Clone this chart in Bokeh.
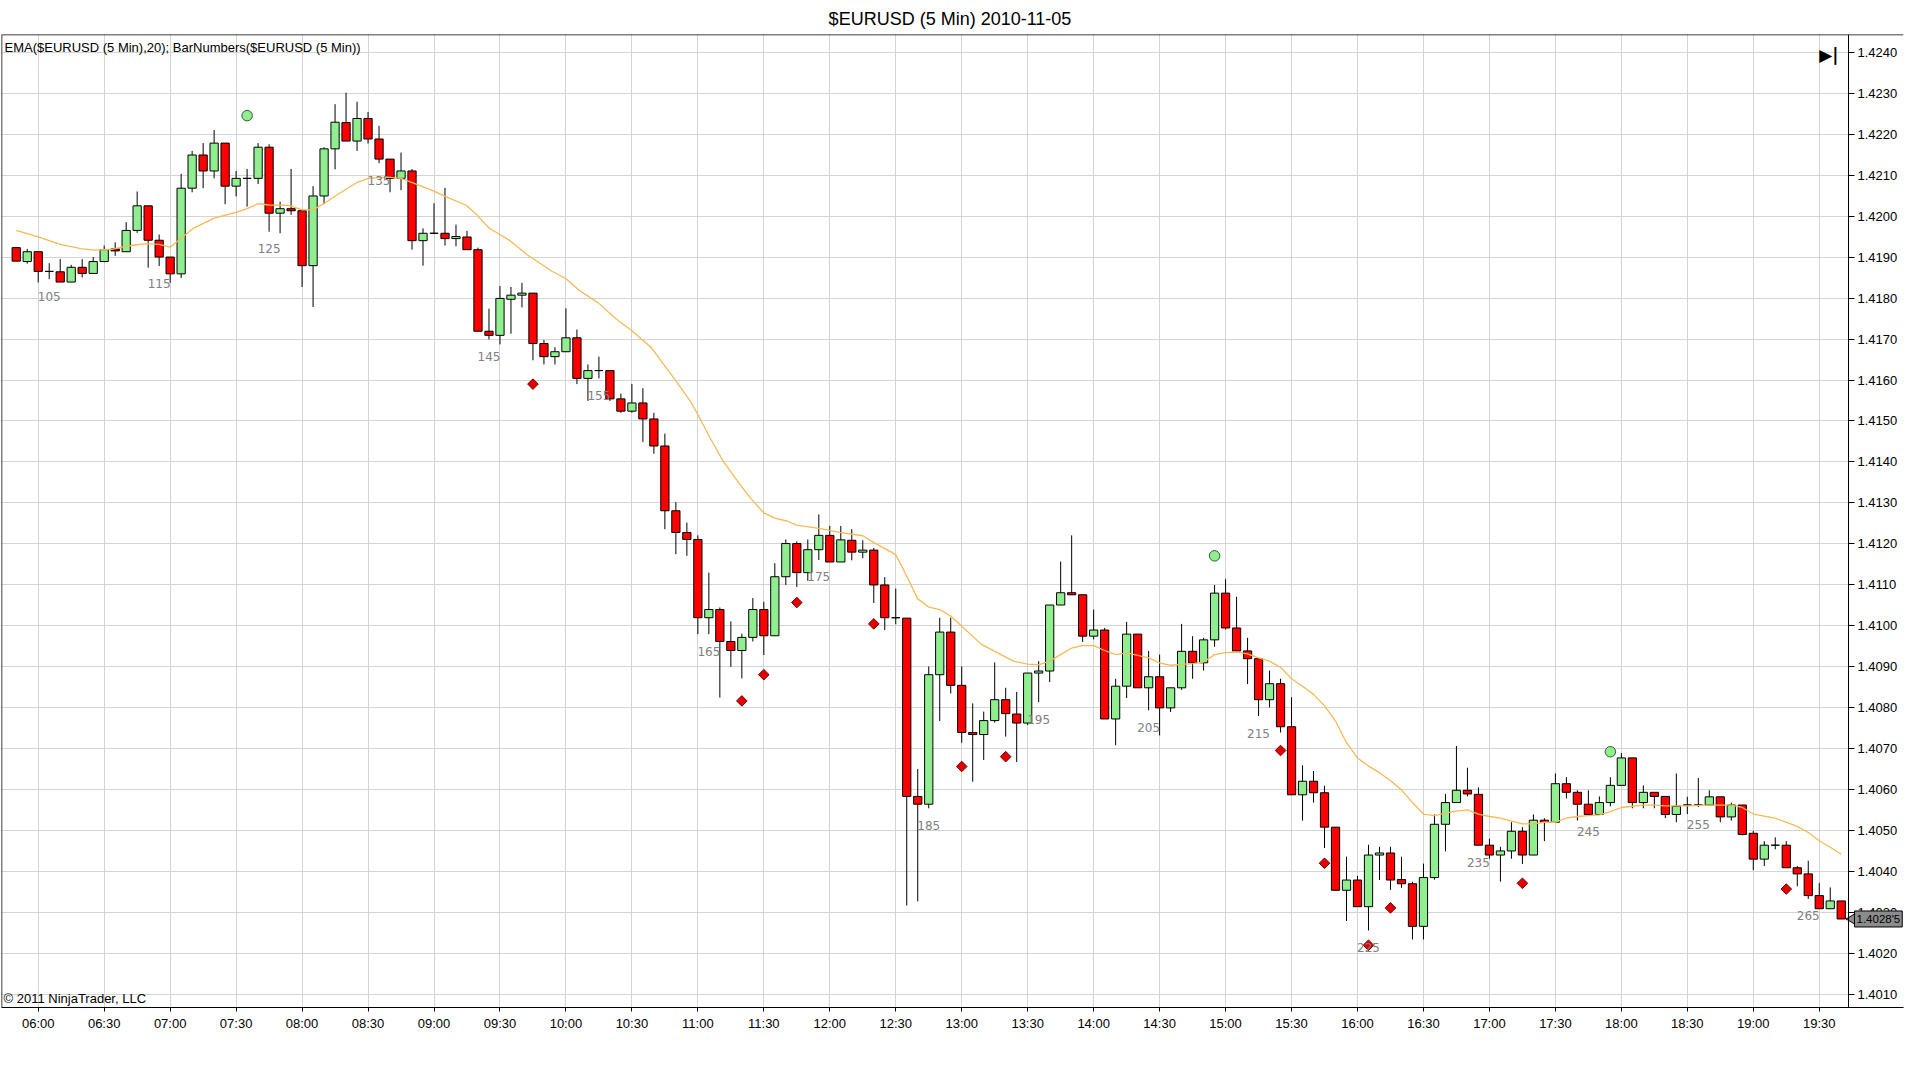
import math
from bokeh.plotting import figure
from bokeh.models import (Range1d, FixedTicker, ColumnDataSource, Label, LabelSet,
                          PrintfTickFormatter, BoxAnnotation, Span)
from bokeh.core.properties import value
from bokeh.embed import file_html
from bokeh.resources import INLINE

# ---------------- data ----------------
first_bar = 102
first_bar_time = "05:50"
bar_minutes = 5

opens = [1.41923, 1.41889, 1.41913, 1.41865, 1.41864, 1.41839, 1.41875, 1.41860, 1.41889, 1.41920,
         1.41913, 1.41965, 1.42025, 1.41941, 1.41900, 1.41859, 1.42068, 1.42149, 1.42110, 1.42178,
         1.42073, 1.42092, 1.42092, 1.42168, 1.42007, 1.42018, 1.42013, 1.41879, 1.42049, 1.42164,
         1.42228, 1.42183, 1.42238, 1.42188, 1.42139, 1.42092, 1.42110, 1.41940, 1.41958, 1.41958,
         1.41945, 1.41949, 1.41918, 1.41719, 1.41709, 1.41797, 1.41807, 1.41812, 1.41689, 1.41657,
         1.41669, 1.41703, 1.41604, 1.41623, 1.41623, 1.41554, 1.41524, 1.41544, 1.41505, 1.41439,
         1.41281, 1.41228, 1.41211, 1.41020, 1.41040, 1.40962, 1.40940, 1.40972, 1.41040, 1.40976,
         1.41120, 1.41201, 1.41130, 1.41186, 1.41221, 1.41156, 1.41209, 1.41180, 1.41185, 1.41100,
         1.41020, 1.41019, 1.40584, 1.40565, 1.40881, 1.40985, 1.40855, 1.40740, 1.40735, 1.40769,
         1.40820, 1.40785, 1.40763, 1.40885, 1.40890, 1.41051, 1.41081, 1.41076, 1.40975, 1.40990,
         1.40773, 1.40853, 1.40980, 1.40849, 1.40876, 1.40800, 1.40849, 1.40938, 1.40910, 1.40966,
         1.41080, 1.40995, 1.40939, 1.40920, 1.40820, 1.40859, 1.40754, 1.40588, 1.40621, 1.40593,
         1.40509, 1.40355, 1.40380, 1.40315, 1.40441, 1.40446, 1.40381, 1.40371, 1.40267, 1.40386,
         1.40516, 1.40569, 1.40599, 1.40589, 1.40465, 1.40441, 1.40451, 1.40499, 1.40441, 1.40526,
         1.40521, 1.40615, 1.40594, 1.40565, 1.40540, 1.40569, 1.40611, 1.40678, 1.40569, 1.40594,
         1.40584, 1.40540, 1.40563, 1.40563, 1.40563, 1.40583, 1.40534, 1.40563, 1.40494, 1.40431,
         1.40465, 1.40465, 1.40410, 1.40395, 1.40342, 1.40310, 1.40329]

highs = [1.41923, 1.41920, 1.41913, 1.41885, 1.41895, 1.41881, 1.41895, 1.41900, 1.41928, 1.41936,
         1.41985, 1.42060, 1.42025, 1.41955, 1.41900, 1.42103, 1.42159, 1.42178, 1.42210, 1.42178,
         1.42110, 1.42115, 1.42178, 1.42175, 1.42035, 1.42115, 1.42013, 1.42073, 1.42168, 1.42273,
         1.42301, 1.42279, 1.42254, 1.42220, 1.42139, 1.42155, 1.42115, 1.41970, 1.42031, 1.42069,
         1.41979, 1.41964, 1.41923, 1.41774, 1.41829, 1.41827, 1.41837, 1.41812, 1.41698, 1.41680,
         1.41775, 1.41723, 1.41638, 1.41657, 1.41623, 1.41567, 1.41590, 1.41580, 1.41520, 1.41469,
         1.41302, 1.41252, 1.41221, 1.41130, 1.41045, 1.41011, 1.40981, 1.41068, 1.41059, 1.41153,
         1.41211, 1.41206, 1.41211, 1.41272, 1.41244, 1.41244, 1.41236, 1.41209, 1.41190, 1.41119,
         1.41091, 1.41019, 1.40651, 1.40901, 1.41020, 1.41020, 1.40901, 1.40811, 1.40791, 1.40911,
         1.40849, 1.40839, 1.40885, 1.40914, 1.41051, 1.41157, 1.41221, 1.41076, 1.41040, 1.40995,
         1.40871, 1.41010, 1.40980, 1.40939, 1.40930, 1.40849, 1.41005, 1.40975, 1.40971, 1.41100,
         1.41114, 1.41071, 1.40971, 1.40920, 1.40891, 1.40871, 1.40826, 1.40660, 1.40646, 1.40610,
         1.40509, 1.40437, 1.40390, 1.40466, 1.40461, 1.40461, 1.40437, 1.40376, 1.40420, 1.40540,
         1.40590, 1.40707, 1.40654, 1.40606, 1.40481, 1.40461, 1.40521, 1.40509, 1.40540, 1.40531,
         1.40640, 1.40631, 1.40599, 1.40599, 1.40584, 1.40631, 1.40690, 1.40678, 1.40611, 1.40594,
         1.40584, 1.40640, 1.40583, 1.40629, 1.40599, 1.40583, 1.40569, 1.40563, 1.40500, 1.40475,
         1.40484, 1.40475, 1.40414, 1.40427, 1.40373, 1.40362, 1.40329]

lows = [1.41890, 1.41884, 1.41838, 1.41846, 1.41839, 1.41839, 1.41850, 1.41860, 1.41889, 1.41903,
        1.41913, 1.41959, 1.41874, 1.41878, 1.41837, 1.41849, 1.42058, 1.42068, 1.42092, 1.42029,
        1.42048, 1.42023, 1.42078, 1.41962, 1.41958, 1.42003, 1.41827, 1.41778, 1.42029, 1.42114,
        1.42183, 1.42159, 1.42177, 1.42129, 1.42058, 1.42063, 1.41918, 1.41879, 1.41956, 1.41928,
        1.41926, 1.41918, 1.41719, 1.41699, 1.41687, 1.41713, 1.41777, 1.41648, 1.41638, 1.41638,
        1.41669, 1.41590, 1.41549, 1.41604, 1.41549, 1.41520, 1.41520, 1.41449, 1.41420, 1.41236,
        1.41175, 1.41171, 1.40980, 1.40980, 1.40825, 1.40900, 1.40872, 1.40962, 1.40929, 1.40976,
        1.41100, 1.41095, 1.41110, 1.41161, 1.41156, 1.41156, 1.41160, 1.41165, 1.41056, 1.40990,
        1.41004, 1.40318, 1.40328, 1.40555, 1.40768, 1.40835, 1.40715, 1.40620, 1.40673, 1.40764,
        1.40730, 1.40668, 1.40758, 1.40814, 1.40863, 1.41051, 1.41076, 1.40961, 1.40967, 1.40773,
        1.40709, 1.40824, 1.40849, 1.40794, 1.40733, 1.40790, 1.40844, 1.40871, 1.40891, 1.40949,
        1.40991, 1.40939, 1.40858, 1.40780, 1.40801, 1.40740, 1.40588, 1.40525, 1.40569, 1.40458,
        1.40355, 1.40280, 1.40315, 1.40257, 1.40380, 1.40356, 1.40361, 1.40235, 1.40235, 1.40381,
        1.40450, 1.40569, 1.40584, 1.40465, 1.40432, 1.40376, 1.40432, 1.40419, 1.40441, 1.40475,
        1.40521, 1.40579, 1.40525, 1.40540, 1.40540, 1.40560, 1.40611, 1.40555, 1.40555, 1.40555,
        1.40531, 1.40521, 1.40541, 1.40558, 1.40563, 1.40521, 1.40525, 1.40489, 1.40404, 1.40414,
        1.40455, 1.40410, 1.40365, 1.40334, 1.40310, 1.40310, 1.40285]

closes = [1.41890, 1.41913, 1.41865, 1.41865, 1.41839, 1.41875, 1.41860, 1.41889, 1.41918, 1.41915,
          1.41965, 1.42025, 1.41941, 1.41900, 1.41859, 1.42068, 1.42149, 1.42110, 1.42178, 1.42073,
          1.42092, 1.42092, 1.42168, 1.42007, 1.42018, 1.42013, 1.41879, 1.42049, 1.42164, 1.42229,
          1.42183, 1.42238, 1.42188, 1.42139, 1.42092, 1.42110, 1.41940, 1.41958, 1.41958, 1.41945,
          1.41950, 1.41918, 1.41719, 1.41709, 1.41799, 1.41807, 1.41812, 1.41689, 1.41657, 1.41669,
          1.41703, 1.41604, 1.41623, 1.41623, 1.41554, 1.41524, 1.41544, 1.41505, 1.41439, 1.41281,
          1.41228, 1.41211, 1.41020, 1.41040, 1.40962, 1.40940, 1.40972, 1.41040, 1.40976, 1.41120,
          1.41201, 1.41130, 1.41186, 1.41221, 1.41156, 1.41210, 1.41180, 1.41185, 1.41100, 1.41020,
          1.41020, 1.40584, 1.40565, 1.40881, 1.40985, 1.40855, 1.40740, 1.40735, 1.40769, 1.40820,
          1.40786, 1.40763, 1.40885, 1.40890, 1.41051, 1.41081, 1.41076, 1.40975, 1.40990, 1.40773,
          1.40853, 1.40980, 1.40849, 1.40876, 1.40800, 1.40849, 1.40938, 1.40910, 1.40966, 1.41080,
          1.40995, 1.40939, 1.40920, 1.40820, 1.40859, 1.40754, 1.40588, 1.40621, 1.40593, 1.40509,
          1.40355, 1.40380, 1.40315, 1.40441, 1.40446, 1.40380, 1.40371, 1.40267, 1.40386, 1.40516,
          1.40569, 1.40599, 1.40590, 1.40465, 1.40441, 1.40451, 1.40499, 1.40441, 1.40526, 1.40521,
          1.40615, 1.40594, 1.40565, 1.40540, 1.40569, 1.40611, 1.40678, 1.40569, 1.40594, 1.40584,
          1.40540, 1.40560, 1.40563, 1.40563, 1.40583, 1.40534, 1.40563, 1.40491, 1.40431, 1.40465,
          1.40465, 1.40410, 1.40395, 1.40342, 1.40310, 1.40329, 1.40285]

# EMA(20) (bar number, value)
ema_bars = [102, 104, 106, 108, 109.2, 110.7, 112.2, 113.75, 115, 116, 117, 118.1, 120, 122, 123,
            124, 125, 126.8, 128, 129, 129.9, 131.3, 133, 134, 135.75, 137, 138.2, 140, 141, 142.9,
            143.9, 145, 146.8, 148.5, 150.7, 152, 153.2, 155, 156.5, 158, 159.8, 162.1, 163.2, 164,
            165.1, 166.3, 167.8, 169, 170, 171, 172.1, 173, 175, 176.9, 179, 180.1, 182, 183, 184,
            185, 186, 187, 188, 189.8, 192.7, 194, 195, 196, 197, 198, 199, 200, 201, 202, 203, 204,
            205, 206, 207, 208, 209, 210, 211, 212, 213, 214, 215, 216, 217, 218, 219, 220, 221, 222,
            223, 224, 225, 226, 227, 228, 229, 230, 231, 232, 233, 234, 235, 236, 237, 238, 239, 240,
            241, 242, 243, 244, 245, 246, 247, 248, 249, 250, 251, 252, 254, 256, 258, 259, 260, 262,
            264, 265, 266, 267, 268]
ema_values = [1.41965, 1.41949, 1.41931, 1.41920, 1.41917, 1.41919, 1.41927, 1.41933, 1.41931,
              1.41924, 1.41946, 1.41970, 1.41995, 1.42009, 1.42018, 1.42030, 1.42027, 1.42026,
              1.42015, 1.42015, 1.42029, 1.42054, 1.42082, 1.42092, 1.42095, 1.42092, 1.42080,
              1.42061, 1.42048, 1.42027, 1.42003, 1.41971, 1.41942, 1.41905, 1.41866, 1.41847,
              1.41819, 1.41787, 1.41750, 1.41720, 1.41678, 1.41594, 1.41553, 1.41516, 1.41459,
              1.41402, 1.41346, 1.41305, 1.41276, 1.41263, 1.41256, 1.41246, 1.41238, 1.41228,
              1.41220, 1.41202, 1.41174, 1.41121, 1.41066, 1.41046, 1.41040, 1.41024, 1.40999,
              1.40955, 1.40914, 1.40907, 1.40905, 1.40914, 1.40930, 1.40946, 1.40952, 1.40952,
              1.40940, 1.40930, 1.40934, 1.40928, 1.40922, 1.40910, 1.40904, 1.40906, 1.40908,
              1.40912, 1.40930, 1.40935, 1.40936, 1.40932, 1.40922, 1.40914, 1.40899, 1.40871,
              1.40853, 1.40833, 1.40805, 1.40768, 1.40715, 1.40678, 1.40658, 1.40642, 1.40622,
              1.40600, 1.40569, 1.40541, 1.40537, 1.40543, 1.40548, 1.40551, 1.40541, 1.40535,
              1.40531, 1.40524, 1.40517, 1.40517, 1.40521, 1.40521, 1.40531, 1.40535, 1.40537,
              1.40539, 1.40547, 1.40557, 1.40560, 1.40563, 1.40563, 1.40561, 1.40561, 1.40563,
              1.40563, 1.40557, 1.40541, 1.40531, 1.40511, 1.40496, 1.40476, 1.40460, 1.40443]

# swing markers
dot_bars = [123, 211, 247]
dot_values = [1.42245, 1.41171, 1.40693]
diamond_bars = [149, 168, 170, 173, 180, 188, 192, 217, 221, 225, 227, 239, 263]
diamond_values = [1.41590, 1.40817, 1.40881, 1.41057, 1.41005, 1.40657, 1.40681, 1.40696,
                  1.40421, 1.40221, 1.40312, 1.40372, 1.40358]

time_labels = ["06:00", "06:30", "07:00", "07:30", "08:00", "08:30", "09:00", "09:30", "10:00",
               "10:30", "11:00", "11:30", "12:00", "12:30", "13:00", "13:30", "14:00", "14:30",
               "15:00", "15:30", "16:00", "16:30", "17:00", "17:30", "18:00", "18:30", "19:00",
               "19:30"]
price_ticks = [1.4010, 1.4020, 1.4030, 1.4040, 1.4050, 1.4060, 1.4070, 1.4080, 1.4090, 1.4100,
               1.4110, 1.4120, 1.4130, 1.4140, 1.4150, 1.4160, 1.4170, 1.4180, 1.4190, 1.4200,
               1.4210, 1.4220, 1.4230, 1.4240]
last_price_text = "1.4028'5"
title_text = "$EURUSD (5 Min)  2010-11-05"
indicator_text = "EMA($EURUSD (5 Min),20); BarNumbers($EURUSD (5 Min))"
copyright_text = "\u00a9 2011 NinjaTrader, LLC"

# ---------------- derived ----------------
bars = [first_bar + i for i in range(len(opens))]


def to_min(s):
    h, m = s.split(":")
    return int(h) * 60 + int(m)


t0 = to_min(first_bar_time)
tick_bars = [first_bar + (to_min(t) - t0) / bar_minutes for t in time_labels]

up_color = "#90EE90"
down_color = "#FF0000"
colors = [up_color if c >= o else down_color for o, c in zip(opens, closes)]
tops = [max(o, c) for o, c in zip(opens, closes)]
bottoms = [min(o, c) for o, c in zip(opens, closes)]

src = ColumnDataSource(dict(x=bars, o=opens, h=highs, l=lows, c=closes,
                            top=tops, bottom=bottoms, color=colors))

# layout: the frame spans the full width; the price axis is pinned at axis_loc
W, H = 1904, 1049
frame_left_px, axis_px = 1, 1848
x_start, axis_loc = 100.66, 268.66
px_per_bar = (axis_px - frame_left_px) / (axis_loc - x_start)
x_end = x_start + (W - 2) / px_per_bar
y_start, y_end = 1.40069, 1.42443

p = figure(width=W, height=H, output_backend="svg", toolbar_location=None,
           x_range=Range1d(x_start, x_end), y_range=Range1d(y_start, y_end),
           y_axis_location="right", title=title_text,
           min_border_left=1, min_border_right=1, min_border_top=34, min_border_bottom=42)

p.background_fill_color = "white"
p.border_fill_color = "white"
p.outline_line_color = None

p.title.text_font = "Liberation Sans"
p.title.text_font_size = "18px"
p.title.text_font_style = "normal"
p.title.text_color = "black"
p.title.align = "center"
p.title.standoff = 11

# axes
p.yaxis.fixed_location = axis_loc
p.yaxis.ticker = FixedTicker(ticks=price_ticks)
p.yaxis.formatter = PrintfTickFormatter(format="%.4f")
p.xaxis.ticker = FixedTicker(ticks=tick_bars)
p.xaxis.major_label_overrides = {tb: lab for tb, lab in zip(tick_bars, time_labels)}
for ax in (p.xaxis, p.yaxis):
    ax.axis_line_color = "black"
    ax.major_tick_line_color = "black"
    ax.major_tick_in = 0
    ax.minor_tick_line_color = None
    ax.major_label_text_font = "Liberation Sans"
    ax.major_label_text_font_size = "13px"
    ax.major_label_text_color = "black"
p.yaxis.major_tick_out = 6
p.yaxis.major_label_standoff = 3
p.xaxis.major_tick_out = 4
p.xaxis.major_label_standoff = 4

p.grid.grid_line_color = "#D4D4D4"
p.grid.grid_line_width = 1

# white area right of the price axis (hides grid lines there)
p.add_layout(BoxAnnotation(left=axis_loc, fill_color="white", fill_alpha=1.0,
                           line_color=None, level="underlay"))
# chart border (left and top)
p.add_layout(Span(location=x_start, dimension="height", line_color="black", line_width=1.5))
p.add_layout(Span(location=y_end, dimension="width", line_color="black", line_width=1.5))

# candles
p.segment(x0="x", y0="l", x1="x", y1="h", source=src, line_color="black", line_width=1)
p.vbar(x="x", width=0.75, top="top", bottom="bottom", source=src,
       fill_color="color", line_color="black", line_width=1)

# EMA
p.line(ema_bars, ema_values, line_color="#F5BA55", line_width=1.3)

# markers
p.scatter(dot_bars, dot_values, marker="circle", size=10.5, fill_color=up_color,
          line_color="#2E5E2E", line_width=1)
p.scatter(diamond_bars, diamond_values, marker="square", angle=math.pi / 4, size=7.5,
          fill_color="#E00000", line_color="#7A0000", line_width=1)

# bar numbers
num_idx = [i for i, b in enumerate(bars) if b % 10 == 5]
num_src = ColumnDataSource(dict(x=[bars[i] for i in num_idx],
                                y=[lows[i] for i in num_idx],
                                t=[str(bars[i]) for i in num_idx]))
p.add_layout(LabelSet(x="x", y="y", text="t", source=num_src, y_offset=-17,
                      text_align="center", text_baseline="middle",
                      text_font=value("DejaVu Sans"), text_font_size=value("12px"),
                      text_color=value("#808080")))

# texts
p.add_layout(Label(x=x_start, y=y_end, x_offset=3, y_offset=-5, text=indicator_text,
                   text_baseline="top", text_align="left", text_font="Liberation Sans",
                   text_font_size="13px", text_color="black"))
p.add_layout(Label(x=x_start, y=y_start, x_offset=2, y_offset=2, text=copyright_text,
                   text_baseline="bottom", text_align="left", text_font="Liberation Sans",
                   text_font_size="13px", text_color="black"))
p.add_layout(Label(x=axis_loc, y=y_end, x_offset=-10, y_offset=-10, text="\u25b6|",
                   text_baseline="top", text_align="right", text_font="DejaVu Sans",
                   text_font_size="17px", text_font_style="bold", text_color="black"))

# last price marker on the price axis: arrow + boxed value
p.scatter([axis_loc + 5 / px_per_bar], [closes[-1]], marker="triangle", angle=math.pi / 2,
          size=13, fill_color="#8C8C8C", line_color="black", line_width=1)
p.add_layout(Label(x=axis_loc, y=closes[-1], x_offset=6, y_offset=0,
                   text=last_price_text, text_baseline="middle", text_align="left",
                   text_font="Liberation Sans", text_font_size="11.5px", text_color="black",
                   background_fill_color="#8C8C8C", border_line_color="black",
                   border_line_width=1, padding=2))

open("out.html", "w").write(file_html(p, INLINE))
